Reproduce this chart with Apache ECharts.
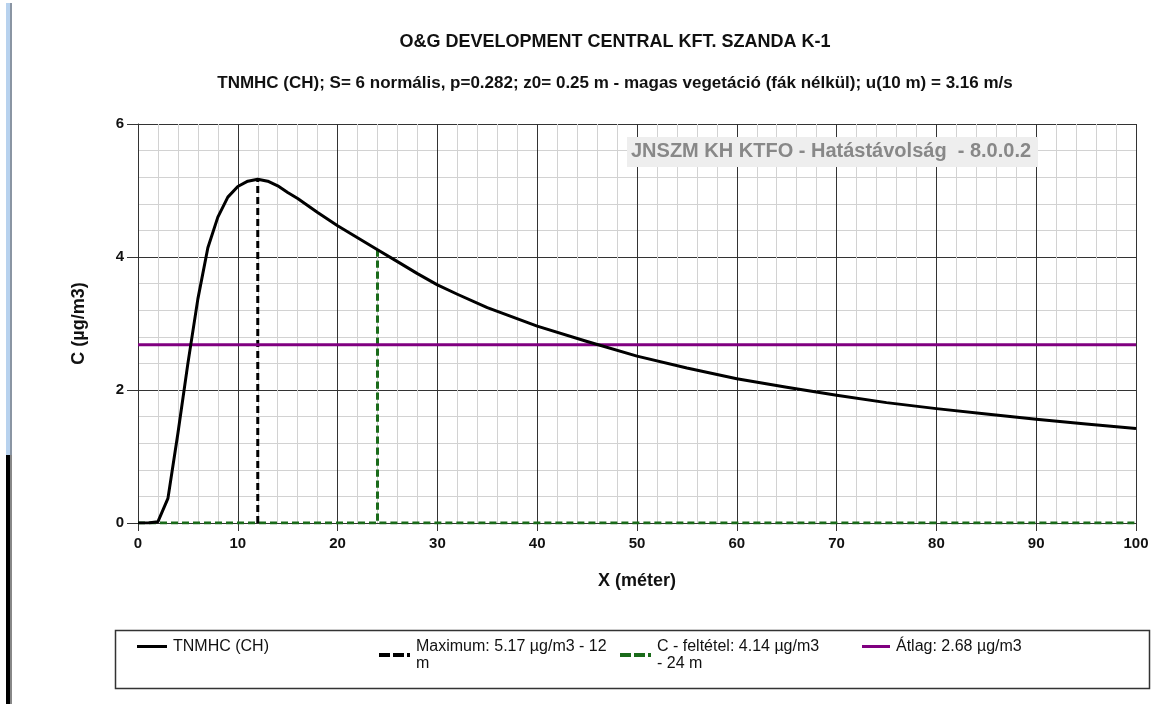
<!DOCTYPE html>
<html>
<head>
<meta charset="utf-8">
<script src="https://cdn.jsdelivr.net/npm/echarts@6/dist/echarts.min.js"></script>
<style>html,body{margin:0;padding:0;background:#fff}#c{width:1152px;height:704px}</style>
</head>
<body>
<div id="c"></div>
<script>
// ---- data ----
const xs = [0,1,2,3,4,5,6,7,8,9,10,11,12,13,14,15,16,18,20,22,24,26,28,30,32,35,40,45,50,55,60,65,70,75,80,85,90,95,100];
const cs = [0,0,0.02,0.37,1.35,2.40,3.37,4.14,4.60,4.90,5.06,5.14,5.17,5.14,5.07,4.97,4.88,4.67,4.47,4.29,4.11,3.93,3.75,3.58,3.44,3.24,2.96,2.73,2.51,2.33,2.17,2.04,1.92,1.81,1.72,1.64,1.56,1.49,1.42];
const maxX = 12, maxC = 5.17;
const condX = 24, condC = 4.14;
const avgC = 2.68;
const xRange = [0, 100];
const seriesNames = ['TNMHC (CH)', 'Maximum: 5.17 µg/m3 - 12 m', 'C - feltétel: 4.14 µg/m3 - 24 m', 'Átlag: 2.68 µg/m3'];
const legendLabels = ['TNMHC (CH)', 'Maximum: 5.17 µg/m3 - 12\nm', 'C - feltétel: 4.14 µg/m3\n- 24 m', 'Átlag: 2.68 µg/m3'];
const titleText = 'O&G DEVELOPMENT CENTRAL KFT. SZANDA K-1';
const subtitleText = 'TNMHC (CH); S= 6 normális, p=0.282; z0= 0.25 m - magas vegetáció (fák nélkül); u(10 m) = 3.16 m/s';
const watermark = 'JNSZM KH KTFO - Hatástávolság  - 8.0.0.2';

const curve = xs.map((x, i) => [x, cs[i]]);
const maxLine = [[maxX, 0], [maxX, maxC]];
const condLine = [[xRange[0], 0], [condX, 0], [condX, condC], [condX, 0], [xRange[1], 0]];
const avgLine = [[xRange[0], avgC], [xRange[1], avgC]];

const FONT = '"Liberation Sans", Arial, sans-serif';
const chart = echarts.init(document.getElementById('c'), null, {renderer: 'canvas'});

const DASH_ICON = 'path://M0,0h11v4h-11zM14,0h11v4h-11zM28,0h3v4h-3z';
const legendDefs = [
  {left: 137, icon: 'rect', w: 30, h: 3},
  {left: 379, icon: DASH_ICON, w: 31, h: 4},
  {left: 620, icon: DASH_ICON, w: 31, h: 4},
  {left: 862, icon: 'rect', w: 28, h: 3}
];
const legends = seriesNames.map((n, i) => ({
  left: legendDefs[i].left, top: 638, padding: 0, orient: 'horizontal',
  data: [{name: n, icon: legendDefs[i].icon}],
  itemWidth: legendDefs[i].w, itemHeight: legendDefs[i].h, itemGap: 6,
  formatter: () => legendLabels[i],
  textStyle: {fontFamily: FONT, fontSize: 16, color: '#111', lineHeight: 17, padding: [0, 0, 0, 1]},
  selectedMode: false
}));

chart.setOption({
  animation: false,
  backgroundColor: '#fff',
  title: [
    {text: titleText, left: 615, top: 33, textAlign: 'center', padding: 0,
     textStyle: {fontFamily: FONT, fontSize: 18, fontWeight: 'bold', color: '#111'}},
    {text: subtitleText, left: 615, top: 75, textAlign: 'center', padding: 0,
     textStyle: {fontFamily: FONT, fontSize: 17, fontWeight: 'bold', color: '#111'}}
  ],
  legend: legends,
  grid: {left: 138, right: 16, top: 124, bottom: 181, containLabel: false},
  xAxis: {
    type: 'value', min: xRange[0], max: xRange[1], interval: 10,
    name: 'X (méter)', nameLocation: 'middle', nameGap: 49,
    nameTextStyle: {fontFamily: FONT, fontSize: 18, fontWeight: 'bold', color: '#111'},
    axisLine: {show: true, lineStyle: {color: '#333', width: 1}},
    axisTick: {show: true, length: 8, lineStyle: {color: '#333'}},
    axisLabel: {fontFamily: FONT, fontSize: 15, fontWeight: 'bold', color: '#111', margin: 13},
    splitLine: {show: true, lineStyle: {color: '#333', width: 1}},
    minorTick: {show: false, splitNumber: 5},
    minorSplitLine: {show: true, lineStyle: {color: '#d2d2d2', width: 1}}
  },
  yAxis: {
    type: 'value', min: 0, max: 6, interval: 2,
    name: 'C (µg/m3)', nameLocation: 'middle', nameGap: 50, nameRotate: 90,
    nameTextStyle: {fontFamily: FONT, fontSize: 18, fontWeight: 'bold', color: '#111'},
    axisLine: {show: true, lineStyle: {color: '#333', width: 1}},
    axisTick: {show: true, length: 11, lineStyle: {color: '#333'}},
    axisLabel: {fontFamily: FONT, fontSize: 15, fontWeight: 'bold', color: '#111', margin: 14},
    splitLine: {show: true, lineStyle: {color: '#333', width: 1}},
    minorTick: {show: false, splitNumber: 5},
    minorSplitLine: {show: true, lineStyle: {color: '#d2d2d2', width: 1}}
  },
  series: [
    {name: seriesNames[0], type: 'line', data: curve, showSymbol: false, symbol: 'none',
     lineStyle: {color: '#000', width: 3, join: 'round'}, itemStyle: {color: '#000'}, z: 5},
    {name: seriesNames[1], type: 'line', data: maxLine, showSymbol: false, symbol: 'none',
     lineStyle: {color: '#000', width: 3, type: [7, 4]}, itemStyle: {color: '#000'}, z: 4},
    {name: seriesNames[2], type: 'line', data: condLine, showSymbol: false, symbol: 'none',
     lineStyle: {color: '#1a6b1a', width: 3, type: [7, 4]}, itemStyle: {color: '#1a6b1a'}, z: 3},
    {name: seriesNames[3], type: 'line', data: avgLine, showSymbol: false, symbol: 'none',
     lineStyle: {color: '#800080', width: 3}, itemStyle: {color: '#800080'}, z: 4}
  ],
  graphic: [
    {type: 'rect', left: 6, top: 3, shape: {width: 5, height: 452}, style: {fill: '#b8d2ee'}, z: 10},
    {type: 'rect', left: 10, top: 3, shape: {width: 2, height: 452}, style: {fill: '#8a95a3'}, z: 10},
    {type: 'rect', left: 6, top: 455, shape: {width: 4, height: 249}, style: {fill: '#000'}, z: 10},
    {type: 'rect', left: 10, top: 455, shape: {width: 2, height: 249}, style: {fill: '#888'}, z: 10},
    {type: 'rect', left: 627, top: 137, shape: {width: 411, height: 30}, style: {fill: '#eeeeee'}, z: 10},
    {type: 'text', left: 631, top: 141, z: 11,
     style: {text: watermark, fontFamily: FONT, fontSize: 20, fontWeight: 'bold', fill: '#888'}},
    {type: 'rect', left: 113, top: 628, shape: {width: 1034, height: 58},
     style: {fill: 'none', stroke: '#333', lineWidth: 1.5}, z: 10}
  ]
});
</script>
</body>
</html>
